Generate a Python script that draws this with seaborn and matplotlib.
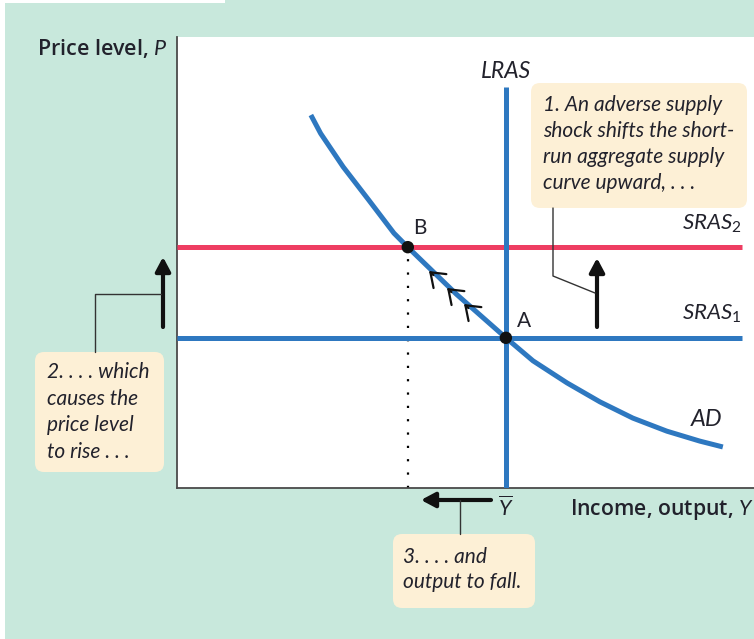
import matplotlib
matplotlib.use("Agg")
import matplotlib.pyplot as plt
import seaborn as sns
import pandas as pd
from matplotlib.patches import FancyBboxPatch, Rectangle

# ---------------- data ----------------
ad_output = [2.32, 2.49, 2.88, 3.32, 3.76, 4.00, 4.84, 5.70, 6.17, 6.76, 7.33, 7.90, 8.49, 9.06, 9.46]
ad_price = [8.27, 7.86, 7.12, 6.39, 5.65, 5.34, 4.30, 3.33, 2.82, 2.33, 1.91, 1.55, 1.26, 1.04, 0.91]
sras_levels = [3.33, 5.34]          # SRAS1, SRAS2
sras_names = ["SRAS$_1$", "SRAS$_2$"]
sras_extent = [0.0, 9.79]
lras_output = 5.70
lras_top = 8.89
eq_output = [5.70, 4.00]            # A, B
eq_price = [3.33, 5.34]
eq_names = ["A", "B"]

box1_lines = ["1. An adverse supply", "shock shifts the short-",
              "run aggregate supply", "curve upward, . . ."]
box2_lines = ["2. . . . which", "causes the", "price level", "to rise . . ."]
box3_lines = ["3. . . . and", "output to fall."]

# ---------------- style ----------------
sns.set_theme(style="white")
plt.rcParams["font.family"] = ["Lato", "DejaVu Sans"]
plt.rcParams["mathtext.fontset"] = "custom"
plt.rcParams["mathtext.rm"] = "Lato"
plt.rcParams["mathtext.it"] = "Lato:italic"

MINT = "#c8e8dc"
PEACH = "#fdf0d6"
BLUE = "#2e78c0"
RED = "#ee3d62"
TXT = "#22222c"

W, H = 754, 639
fig = plt.figure(figsize=(W / 100, H / 100), dpi=100)
fig.patch.set_facecolor(MINT)


def F(x, y):
    """figure pixel (from top-left) -> figure fraction"""
    return (x / W, 1 - y / H)


def box(x0, y0, x1, y1):
    p = FancyBboxPatch((x0 / 100, (H - y1) / 100), (x1 - x0) / 100, (y1 - y0) / 100,
                       boxstyle="round,pad=0,rounding_size=0.09",
                       transform=fig.dpi_scale_trans, facecolor=PEACH,
                       edgecolor="none", zorder=1)
    fig.patches.append(p)


# white edges of the page
fig.patches.append(Rectangle((0, 0), 5 / W, 1, transform=fig.transFigure,
                             facecolor="white", edgecolor="none", zorder=0))
fig.patches.append(Rectangle((0, 1 - 2.5 / H), 225 / W, 2.5 / H, transform=fig.transFigure,
                             facecolor="white", edgecolor="none", zorder=0))

ax = fig.add_axes([177 / W, 1 - 488 / H, (W - 177) / W, (488 - 37) / H])
ax.set_facecolor("white")
ax.set_xlim(0, 10)
ax.set_ylim(0, 10)
ax.set_xticks([])
ax.set_yticks([])
for s in ["top", "right"]:
    ax.spines[s].set_visible(False)
for s in ["left", "bottom"]:
    ax.spines[s].set_color("#4a4a4a")
    ax.spines[s].set_linewidth(1.3)

# SRAS lines
ax.hlines(sras_levels[0], sras_extent[0], sras_extent[1], color=BLUE, lw=3.6, zorder=3)
ax.hlines(sras_levels[1], sras_extent[0], sras_extent[1], color=RED, lw=3.6, zorder=3)
# LRAS
ax.vlines(lras_output, 0, lras_top, color=BLUE, lw=3.6, zorder=3)
# AD curve
ad_df = pd.DataFrame({"Y": ad_output, "P": ad_price})
sns.lineplot(data=ad_df, x="Y", y="P", sort=False, color=BLUE, lw=3.6, ax=ax, zorder=4,
             solid_capstyle="butt", solid_joinstyle="round")
# dotted drop line from B
ax.vlines(eq_output[1], 0, eq_price[1], color="black", lw=1.6,
          linestyles=(0, (1, 5)), zorder=2)
# equilibrium points
eq_df = pd.DataFrame({"Y": eq_output, "P": eq_price})
sns.scatterplot(data=eq_df, x="Y", y="P", color="#111111", s=80, ax=ax, zorder=6,
                edgecolor="none")
ax.set_xlabel("")
ax.set_ylabel("")

# ---------------- labels ----------------
fs = 15
AXF = ["Open Sans", "DejaVu Sans"]
fig.text(*F(168, 48), "Price level, $P$", ha="right", va="center", fontsize=15.5,
         family=AXF, weight="semibold", color=TXT)
fig.text(*F(570, 509), "Income, output, $Y$", ha="left", va="center", fontsize=15.3,
         family=AXF, weight="semibold", color=TXT)
fig.text(*F(506, 508), r"$\overline{Y}$", ha="center", va="center", fontsize=15.5, color=TXT)
fig.text(*F(506, 71), "LRAS", ha="center", va="center", fontsize=16.5, style="italic", color=TXT)
fig.text(*F(742, 224), sras_names[1], ha="right", va="center", fontsize=16, style="italic", color=TXT)
fig.text(*F(742, 314), sras_names[0], ha="right", va="center", fontsize=16, style="italic", color=TXT)
fig.text(*F(707, 420), "AD", ha="center", va="center", fontsize=17, style="italic", color=TXT)
fig.text(*F(420, 228), eq_names[1], ha="center", va="center", fontsize=15, color=TXT)
fig.text(*F(524, 321), eq_names[0], ha="center", va="center", fontsize=15, color=TXT)

# ---------------- callout boxes ----------------
box(531, 83, 747, 208)
for i, t in enumerate(box1_lines):
    fig.text(*F(543, 105 + i * 26), t, ha="left", va="center", fontsize=fs,
             style="italic", color=TXT, zorder=2)
box(35, 352, 164, 472)
for i, t in enumerate(box2_lines):
    fig.text(*F(47, 372 + i * 26.7), t, ha="left", va="center", fontsize=fs,
             style="italic", color=TXT, zorder=2)
box(393, 534, 535, 608)
for i, t in enumerate(box3_lines):
    fig.text(*F(403, 557 + i * 25), t, ha="left", va="center", fontsize=fs,
             style="italic", color=TXT, zorder=2)


def line(pts, color="#333333", lw=1.0):
    xs = [F(*p)[0] for p in pts]
    ys = [F(*p)[1] for p in pts]
    fig.add_artist(plt.Line2D(xs, ys, transform=fig.transFigure, color=color, lw=lw, zorder=5))


def arrow(tail, tip, lw=3.0, style="-|>,head_length=0.6,head_width=0.32", ms=14, color="#111111"):
    ax.annotate("", xy=F(*tip), xytext=F(*tail), xycoords="figure fraction",
                textcoords="figure fraction", annotation_clip=False,
                arrowprops=dict(arrowstyle=style, lw=lw, color=color, mutation_scale=ms,
                                shrinkA=0, shrinkB=0), zorder=7)


# leader lines
line([(553, 208), (553, 276), (595, 293)])
line([(95, 352), (95, 294), (161, 294)])
line([(460, 500), (460, 534)])

# thick arrows
arrow((597, 327), (597, 258))
arrow((163, 327), (163, 257))
arrow((491, 500), (421, 500))

# small chevrons along AD (movement from A to B)
ux, uy = 0.736, 0.677
for tx, ty in [(429, 271), (447, 288), (464, 304)]:
    arrow((tx + 6 * ux, ty + 6 * uy), (tx, ty), lw=1.6,
          style="->,head_length=0.55,head_width=0.4", ms=17)

fig.savefig("out.png", dpi=100, facecolor=MINT)
